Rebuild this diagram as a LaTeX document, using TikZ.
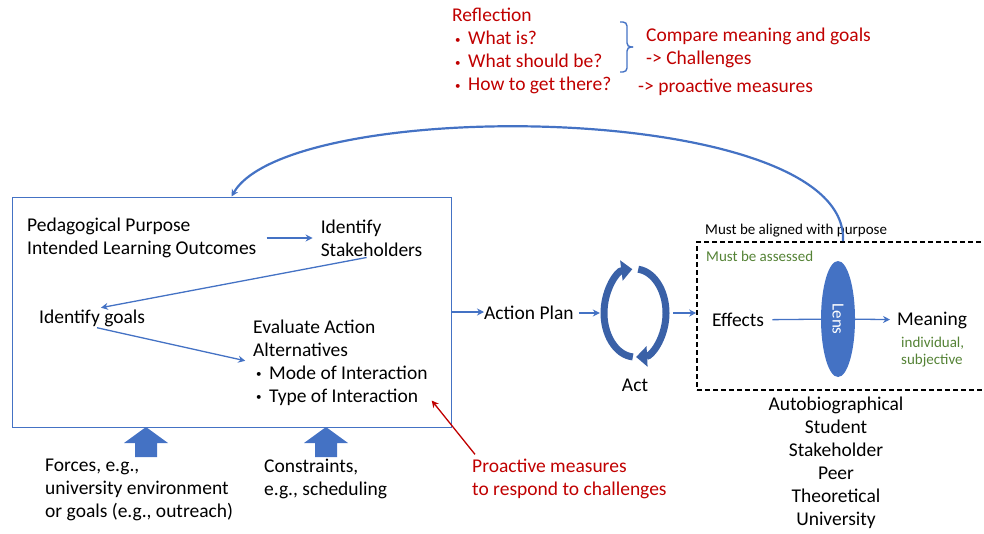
\documentclass[tikz,border=0pt]{standalone}
\usepackage{fontspec}
\setmainfont{Carlito}
\usetikzlibrary{positioning, arrows.meta, shapes.geometric}
\definecolor{pptblue}{HTML}{4472C4}
\definecolor{pptred}{HTML}{C00000}
\definecolor{pptgreen}{HTML}{548235}
\newcommand{\itm}{\hspace*{3pt}\makebox[13pt][l]{\raisebox{1.5pt}{\fontsize{11}{11}\selectfont\textbullet}}}

\begin{document}
\begin{tikzpicture}[x=1pt, y=-1pt, node distance=64pt,
    txt/.style={draw=none,fill=none,inner sep=0pt,font=\fontsize{19.5}{23}\selectfont},
    small/.style={draw=none,fill=none,inner sep=0pt,font=\fontsize{15}{17}\selectfont},
    flow/.style={-{Stealth[length=7pt,width=7pt]}, draw=pptblue, line width=1.3pt},
    cycarrow/.style={-{Triangle[length=11pt,width=20pt]}, draw=pptblue!85!black, line width=7pt}]
			\useasboundingbox (0,0) rectangle (984,533);

			% planning box
			\node[draw=pptblue, line width=1pt, minimum width=439pt, minimum height=230pt] (plan) at (231.5,312) {};
			\node[txt, align=left, anchor=west]  (purpose)  at (27,238) {Pedagogical Purpose\\Intended Learning Outcomes};
			\node[txt, align=left, right=of purpose]  (stake)  {Identify\\Stakeholders};
			\node[txt, anchor=west]  (goals)  at (39,318) {Identify goals};
			\node[txt, align=left, anchor=west]  (eval)  at (253,362.5) {Evaluate Action\\Alternatives\\\itm Mode of Interaction\\\itm Type of Interaction};

			\draw[flow, shorten <=10pt, shorten >=8pt] (purpose) -- (stake) ;
			\draw[flow, shorten <=5pt, shorten >=9pt] (stake.south) -- (goals.north) ;
			\draw[flow, shorten <=5pt, shorten >=8pt] (goals.south) -- (eval.west) ;

			% influences from below
			\coordinate (forcetip) at (146,427);
			\coordinate (constrtip) at (326,427);
			\fill[pptblue] (forcetip) -- ++(22,16) -- ++(-11,0) -- ++(0,14) -- ++(-22,0) -- ++(0,-14) -- ++(-11,0) -- cycle;
			\fill[pptblue] (constrtip) -- ++(22,16) -- ++(-11,0) -- ++(0,14) -- ++(-22,0) -- ++(0,-14) -- ++(-11,0) -- cycle;
			\node[txt, align=left, anchor=west]  (forces)  at (45,490) {Forces, e.g.,\\university environment\\or goals (e.g., outreach)};
			\node[txt, align=left, anchor=west]  (constr)  at (264,478.5) {Constraints,\\e.g., scheduling};
			\node[txt, align=left, anchor=west, text=pptred]  (proact)  at (472,478.5) {Proactive measures\\to respond to challenges};
			\draw[-{Stealth[length=7pt,width=7pt]}, pptred, line width=1.3pt] ([xshift=3pt,yshift=4pt]proact.north west) -- ([xshift=4pt,yshift=5pt]eval.south east) ;

			% action and cycle
			\node[txt, anchor=west]  (action)  at (484,313) {Action Plan};
			\node[draw=none,fill=none, minimum width=62pt, minimum height=88pt]  (cyc)  at (635,313) {};
			\node[txt, below=22pt of cyc]  (act)  {Act};
			\draw[cycarrow] (cyc.center) ++(94:31 and 44) arc[start angle=94, end angle=265, x radius=31, y radius=44];
			\draw[cycarrow] (cyc.center) ++(-84:31 and 44) arc[start angle=-84, end angle=88, x radius=31, y radius=44];

			\draw[flow] (plan.east) -- (plan.east -| action.west) ;
			\draw[flow, shorten <=5pt, shorten >=4pt] (action) -- (cyc) ;

			% assessment
			\node[draw, line width=1.6pt, dash pattern=on 5pt off 3pt, minimum width=300pt, minimum height=148pt]  (assess)  at (847,316) {};
			\draw[flow, shorten <=7pt] (cyc.east) -- (cyc.east -| assess.west) ;
			\node[small, anchor=west]  (aligned)  at (705,231) {Must be aligned with purpose};
			\node[small, anchor=west, text=pptgreen]  (assessed)  at (706,256) {Must be assessed};
			\node[ellipse, fill=pptblue, minimum width=34pt, minimum height=116pt, inner sep=0pt, text=white, font=\fontsize{17}{18}\selectfont]  (lens)  at (838,319) {\rotatebox{-90}{Lens}};
			\node[txt, anchor=west]  (effects)  at (712,320) {Effects};
			\node[txt, anchor=west]  (meaning)  at (897,320) {Meaning};
			\node[small, align=left, anchor=west, text=pptgreen]  (subj)  at (901,352.5) {individual,\\subjective};
			\draw[pptblue, line width=1.3pt, shorten <=8pt] (effects) -- (lens) ;
			\draw[flow, shorten >=7pt] (lens) -- (meaning) ;
			\node[txt, align=center]  (lenses)  at (836,463) {Autobiographical\\Student\\Stakeholder\\Peer\\Theoretical\\University};

			% reflection loop
			\coordinate (loopstart) at ([xshift=5pt]lens |- assess.north);
			\draw[flow, line width=2.2pt] (loopstart) .. controls (850,100) and (290,95) .. (plan.north) ;

			\node[txt, align=left, anchor=west, text=pptred]  (reflect)  at (452,51) {Reflection\\\itm What is?\\\itm What should be?\\\itm How to get there?};
			\coordinate (bracetop) at (620,22);
			\coordinate (bracebot) at (620,72);
			\draw[pptblue, line width=1.4pt, rounded corners=4pt] (bracetop) -- ++(7,0) -- ++(0,25) -- ++(6,0);
			\draw[pptblue, line width=1.4pt, rounded corners=4pt] (bracebot) -- ++(7,0) -- ++(0,-25) -- ++(6,0);
			\node[txt, align=left, anchor=west, text=pptred]  (compare)  at (646,47.5) {Compare meaning and goals\\-> Challenges};
			\node[txt, anchor=west, text=pptred]  (measures)  at (638,87) {-> proactive measures};
		\end{tikzpicture}
\end{document}
